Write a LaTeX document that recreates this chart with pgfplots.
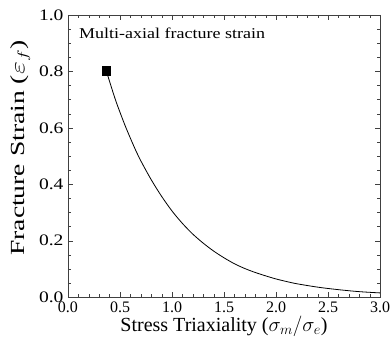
\documentclass[border=0pt]{standalone}
\usepackage{pgfplots}
\pgfplotsset{compat=1.18}
\usepackage{fontspec}
\usepackage{graphicx}
\setmainfont{Liberation Serif}
\begin{document}
\begin{tikzpicture}
\begin{axis}[
  at={(0,0)}, anchor=south west,
  width=312bp, height=282bp, scale only axis,
  xmin=0, xmax=3.0, ymin=0, ymax=1.0,
  xtick={0,0.5,...,3.0}, ytick={0,0.2,...,1.0},
  minor x tick num=4, minor y tick num=3,
  tick align=inside,
  major tick length=5bp, minor tick length=3bp,
  xtick pos=both, ytick pos=both,
  every x tick/.style={black!75},
  every y tick/.style={black!75},
  axis line style={black!75, line width=0.9bp},
  /pgf/number format/fixed,
  /pgf/number format/fixed zerofill,
  /pgf/number format/precision=1,
  /pgf/number format/assume math mode=true,
  tick label style={font=\fontsize{16bp}{18bp}\selectfont},
  xticklabel style={yshift=-1bp},
  yticklabel={\scalebox{1.22}[1]{\pgfmathprintnumber{\tick}}},
  yticklabel style={xshift=-1bp},
  label style={font=\fontsize{20bp}{22bp}\selectfont},
  xlabel={Stress Triaxiality ($\sigma_m/\sigma_e$)},
  ylabel={\scalebox{1.38}[1]{Fracture Strain ($\varepsilon_f$)}},
  xlabel style={yshift=3bp},
  ylabel style={yshift=2bp, xshift=8bp},
]
\addplot[black, line width=0.8bp, smooth] table {
x y
0.368 0.802
0.45 0.706
0.5 0.655
0.55 0.607
0.6 0.563
0.65 0.521
0.7 0.483
0.8 0.416
0.9 0.357
1.0 0.305
1.1 0.261
1.2 0.223
1.3 0.191
1.4 0.163
1.5 0.139
1.6 0.118
1.7 0.101
1.8 0.087
1.9 0.075
2.0 0.064
2.1 0.055
2.2 0.047
2.4 0.035
2.6 0.026
2.8 0.019
3.0 0.0145
};
\addplot[only marks, mark=square*, mark size=4.3bp, black] coordinates {(0.368,0.802)};
\node[anchor=west, font=\fontsize{15bp}{17bp}\selectfont, inner sep=0pt] at (axis cs:0.105,0.935) {\scalebox{1.2}[1]{Multi-axial fracture strain}};
\end{axis}
\pgfresetboundingbox
\path (-68bp,-51bp) rectangle (323bp,297bp);
\end{tikzpicture}
\end{document}
